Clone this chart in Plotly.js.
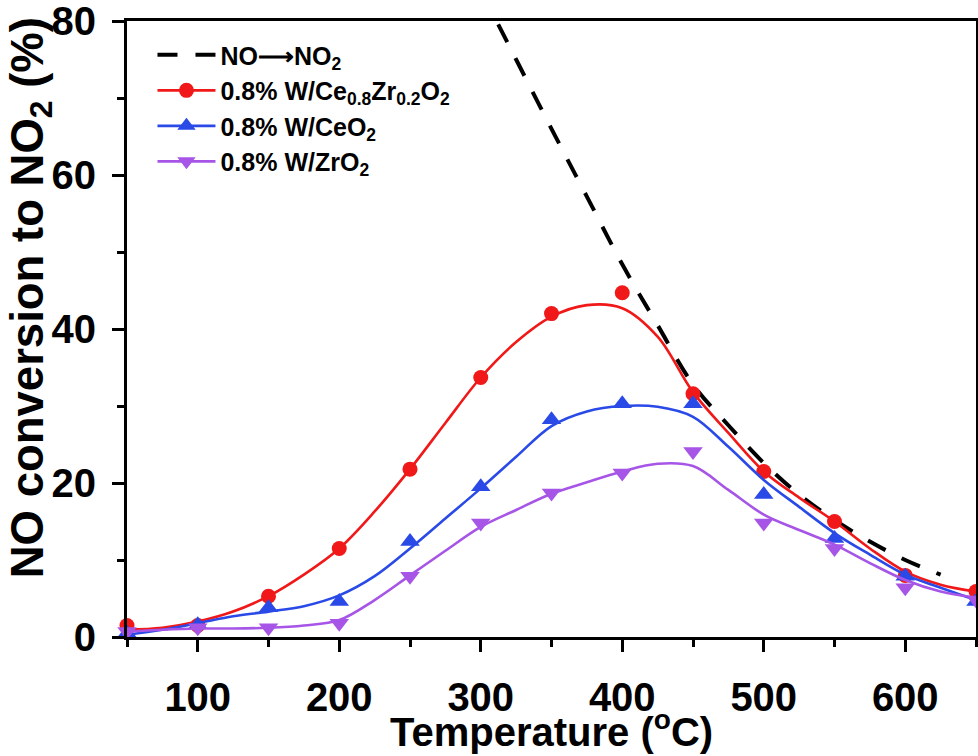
<!DOCTYPE html>
<html>
<head>
<meta charset="utf-8">
<script src="https://cdn.plot.ly/plotly-3.0.1.min.js"></script>
<style>html,body{margin:0;padding:0;background:#fff;}#chart{width:978px;height:756px;}</style>
</head>
<body>
<div id="chart"></div>
<script>
// Measured points (°C, %)
var temps = [50, 100, 150, 200, 250, 300, 350, 400, 450, 500, 550, 600, 650];
var redPts = [1.5, 1.5, 5.3, 11.5, 21.8, 33.7, 42.0, 44.7, 31.6, 21.5, 15.0, 8.0, 5.9];
var bluePts = [0.5, 1.6, 3.8, 4.6, 12.4, 19.5, 28.2, 30.3, 30.3, 18.5, 12.8, 7.9, 4.6];
var purplePts = [0.7, 1.2, 1.2, 1.8, 7.9, 14.8, 18.7, 21.3, 24.1, 14.8, 11.5, 6.4, 4.8];

// Fitted smooth curves
var fitT = [50, 75, 100, 125, 150, 175, 200, 225, 250, 275, 300, 325, 350, 375, 400, 425, 450, 475, 500, 525, 550, 575, 600, 625, 650];
var redFit = [0.95, 1.2, 2.0, 3.3, 5.3, 8.1, 11.5, 16.3, 21.8, 27.8, 33.7, 38.3, 41.6, 43.1, 42.7, 39.0, 31.8, 26.5, 21.5, 18.1, 15.0, 11.5, 8.5, 6.8, 5.9];
var blueFit = [0.3, 0.95, 1.8, 2.7, 3.3, 4.0, 5.4, 7.9, 11.5, 15.4, 19.3, 23.4, 27.4, 29.3, 30.0, 29.9, 28.6, 24.7, 20.4, 16.9, 13.5, 10.7, 8.1, 6.4, 4.8];
var purpleFit = [0.7, 0.95, 1.1, 1.1, 1.2, 1.5, 2.2, 4.8, 8.0, 11.2, 14.3, 16.5, 18.6, 20.1, 21.5, 22.5, 22.2, 19.1, 15.9, 13.9, 12.0, 9.6, 7.4, 5.9, 5.1];

// Equilibrium NO -> NO2 curve
var eqT = [300, 325, 350, 375, 400, 425, 450, 475, 500, 525, 550, 575, 600, 625];
var eqY = [84.0, 75.0, 66.0, 57.2, 48.4, 40.5, 32.8, 27.5, 22.6, 18.5, 15.2, 12.4, 10.0, 8.1];

var names = ['NO\u27F6NO<sub>2</sub>', '0.8% W/Ce<sub>0.8</sub>Zr<sub>0.2</sub>O<sub>2</sub>', '0.8% W/CeO<sub>2</sub>', '0.8% W/ZrO<sub>2</sub>'];
var xTicks = [100, 200, 300, 400, 500, 600];
var yTicks = [0, 20, 40, 60, 80];
var xTitle = 'Temperature (<sup>o</sup>C)';
var yTitle = 'NO conversion to NO<sub>2</sub> (%)';

var RED = '#f01818', BLUE = '#2a4ae8', PURPLE = '#a655e6';
var FONT = 'Liberation Sans, Arial, Helvetica, sans-serif';

var series = [
  {pts: redPts, fit: redFit, color: RED, sym: 'circle', size: 15, name: names[1]},
  {pts: bluePts, fit: blueFit, color: BLUE, sym: 'triangle-up', size: 17, name: names[2]},
  {pts: purplePts, fit: purpleFit, color: PURPLE, sym: 'triangle-down', size: 17, name: names[3]}
];

var traces = [];
traces.push({x: eqT, y: eqY, mode: 'lines', name: names[0],
  line: {color: 'black', width: 4, dash: '20px,18px', shape: 'spline'}, showlegend: true});
series.forEach(function (s) {
  traces.push({x: fitT, y: s.fit, mode: 'lines', line: {color: s.color, width: 2.6, shape: 'spline', smoothing: 1}, showlegend: false, hoverinfo: 'skip'});
  traces.push({x: temps, y: s.pts, mode: 'markers', marker: {color: s.color, symbol: s.sym, size: s.size}, showlegend: false, cliponaxis: false});
  traces.push({x: [null], y: [null], mode: 'lines+markers', name: s.name,
    line: {color: s.color, width: 2.6}, marker: {color: s.color, symbol: s.sym, size: s.size}});
});

var titleFont = {family: FONT, size: 40, weight: 'bold', color: 'black'};

var layout = {
  width: 978, height: 756,
  margin: {l: 127, r: 2, t: 21, b: 119},
  paper_bgcolor: 'white', plot_bgcolor: 'white',
  showlegend: true,
  legend: {x: 0.03, y: 0.982, xanchor: 'left', yanchor: 'top', bgcolor: 'rgba(0,0,0,0)',
    font: {family: FONT, size: 25, weight: 'bold', color: 'black'}, tracegroupgap: 0, itemwidth: 58},
  xaxis: {
    range: [50, 650], tickvals: xTicks, ticktext: xTicks.map(String),
    ticks: 'outside', ticklen: 12, tickwidth: 3, tickcolor: 'black',
    minor: {tickvals: [50, 150, 250, 350, 450, 550, 650], ticks: 'outside', ticklen: 7, tickwidth: 3, tickcolor: 'black'},
    showline: true, linewidth: 3, linecolor: 'black', mirror: true,
    showgrid: false, zeroline: false,
    tickfont: {family: FONT, size: 40, weight: 'bold', color: 'black'},
    ticklabelstandoff: 11, ticklabeloverflow: 'allow'
  },
  yaxis: {
    range: [0, 80], tickvals: yTicks, ticktext: yTicks.map(String),
    ticks: 'outside', ticklen: 12, tickwidth: 3, tickcolor: 'black',
    minor: {tickvals: [10, 30, 50, 70], ticks: 'outside', ticklen: 7, tickwidth: 3, tickcolor: 'black'},
    showline: true, linewidth: 3, linecolor: 'black', mirror: true,
    showgrid: false, zeroline: false,
    tickfont: {family: FONT, size: 40, weight: 'bold', color: 'black'},
    ticklabelstandoff: 8, ticklabeloverflow: 'allow'
  },
  annotations: [{
    text: yTitle, textangle: -90, showarrow: false,
    xref: 'paper', yref: 'paper', x: -0.113, y: 0.55, xanchor: 'center', yanchor: 'middle',
    font: {family: FONT, size: 45.5, weight: 'bold', color: 'black'}
  }, {
    text: xTitle, showarrow: false,
    xref: 'paper', yref: 'paper', x: 0.5, y: -0.193, xanchor: 'center', yanchor: 'bottom',
    font: titleFont
  }]
};

Plotly.newPlot('chart', traces, layout, {displayModeBar: false, staticPlot: true});
</script>
</body>
</html>
